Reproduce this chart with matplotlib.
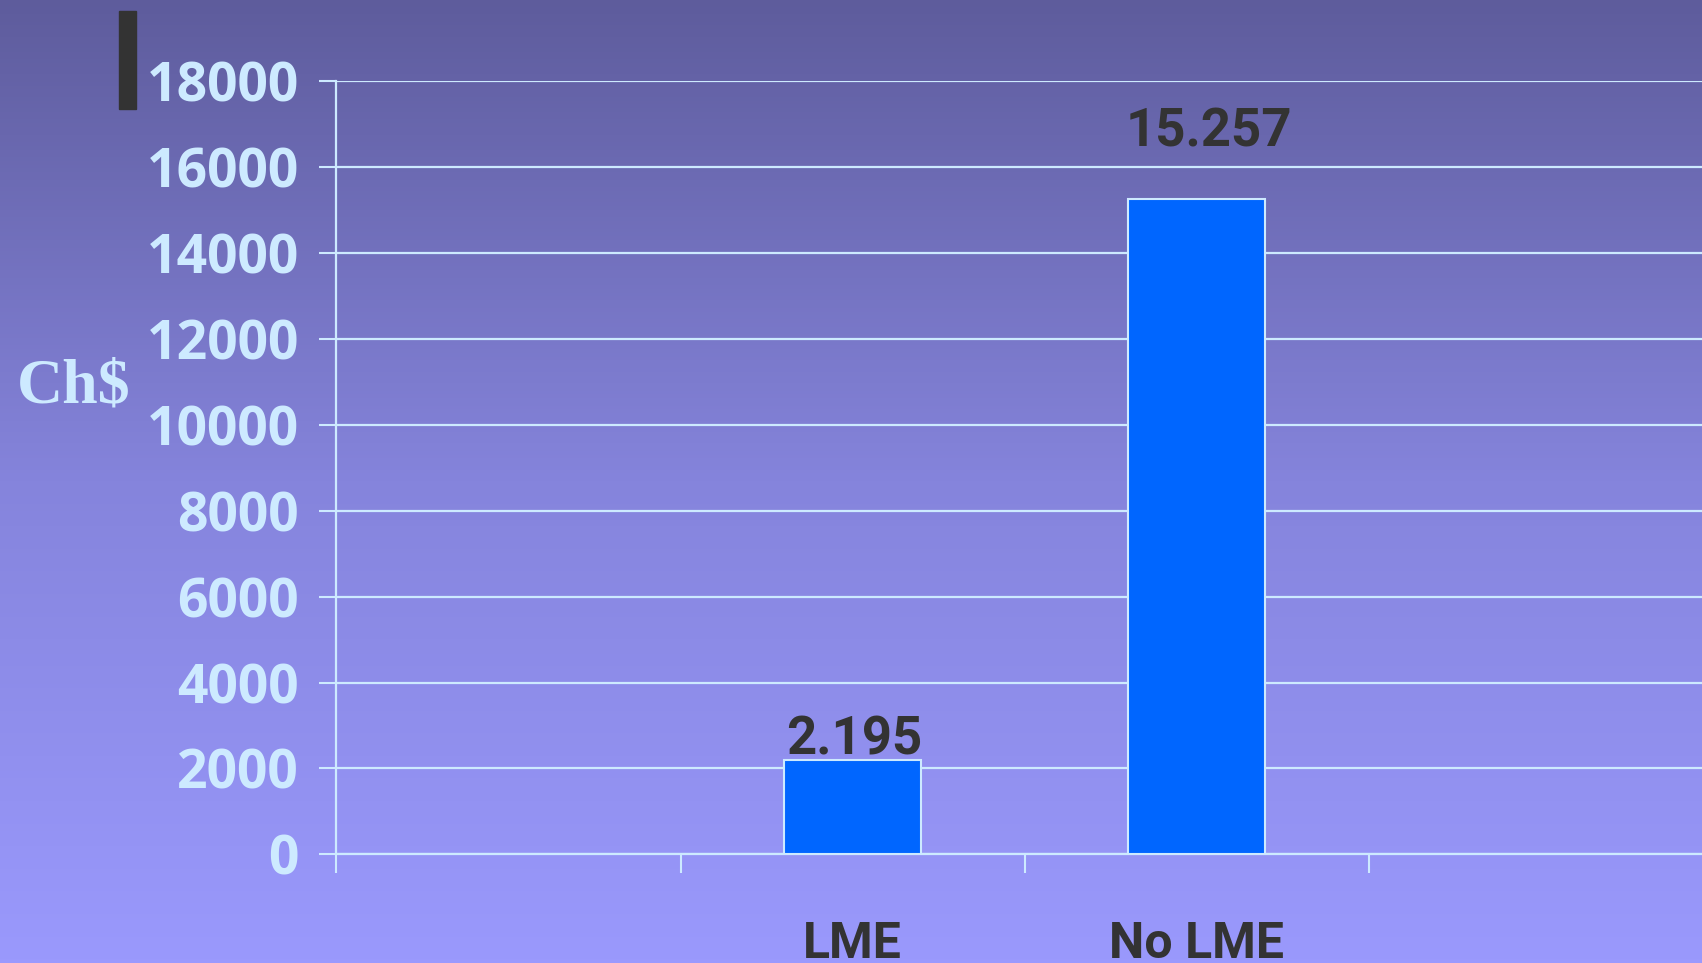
import numpy as np
import matplotlib
matplotlib.use("Agg")
import matplotlib.pyplot as plt
from matplotlib.colors import LinearSegmentedColormap
from matplotlib.patches import Rectangle

# categorias del grafico (primera y ultima quedan vacias, como en el original)
slots = ["", "LME", "No LME", ""]
costos = [None, 2195, 15257, None]
y_ticks = [0, 2000, 4000, 6000, 8000, 10000, 12000, 14000, 16000, 18000]

# desplazamiento (x, y) de cada etiqueta de valor, en puntos
label_offset = [(0, 0), (1, -4), (9, 30), (0, 0)]

LIGHT = "#cdeaff"
DARK = "#333333"

fig = plt.figure(figsize=(17.02, 9.63), dpi=100)

# fondo degradado
bg = fig.add_axes([0, 0, 1, 1], zorder=-10)
cmap = LinearSegmentedColormap.from_list("fondo", ["#5e5c9c", "#8584dc", "#9a99fd"])
grad = np.linspace(0, 1, 256).reshape(-1, 1)
bg.imshow(grad, aspect="auto", cmap=cmap, extent=[0, 1, 0, 1], origin="upper")
bg.axis("off")

ax = fig.add_axes([0.1977, 0.1129, 0.8085, 0.8026])
ax.set_facecolor("none")

x = np.arange(len(slots)) + 0.5
for i, v in enumerate(costos):
    if v is None:
        continue
    ax.bar(x[i], v, width=0.4, color="#0066ff", edgecolor=LIGHT, linewidth=1.5, zorder=3)
    txt = f"{v:,}".replace(",", ".")
    ax.annotate(txt, (x[i], v), xytext=label_offset[i], textcoords="offset points",
                ha="center", va="bottom", fontsize=38, fontweight="bold",
                family="Roboto", color=DARK, zorder=4)

ax.set_xlim(0, len(slots))
ax.set_ylim(0, 18000)

ax.set_yticks(y_ticks)
ax.set_yticklabels([str(t) for t in y_ticks], fontsize=38.5, fontweight="bold",
                   family="Open Sans", color=LIGHT)
ax.set_xticks(np.arange(len(slots) + 1))
ax.set_xticklabels([])
ax.set_xticks(x, minor=True)
ax.set_xticklabels(slots, minor=True, fontsize=36, fontweight="bold",
                   family="Roboto", color=DARK)

ax.tick_params(axis="y", length=12, width=1.5, color=LIGHT, pad=15)
ax.tick_params(axis="x", which="major", length=14, width=1.5, color=LIGHT, direction="out")
ax.tick_params(axis="x", which="minor", length=0, pad=48)

ax.grid(axis="y", color=LIGHT, linewidth=1.6, zorder=0)
ax.set_axisbelow(True)

for s in ["top", "right"]:
    ax.spines[s].set_visible(False)
for s in ["left", "bottom"]:
    ax.spines[s].set_color(LIGHT)
    ax.spines[s].set_linewidth(1.6)

fig.text(0.0435, 0.598, "Ch$", fontsize=46, fontweight="bold", family="Liberation Serif",
         color=LIGHT, ha="center", va="center")

# barra oscura en la esquina superior
fig.patches.append(Rectangle((119 / 1702, 1 - 109 / 963), 17 / 1702, 98 / 963,
                             transform=fig.transFigure, color=DARK, zorder=5))

fig.savefig("out.png", dpi=100)
